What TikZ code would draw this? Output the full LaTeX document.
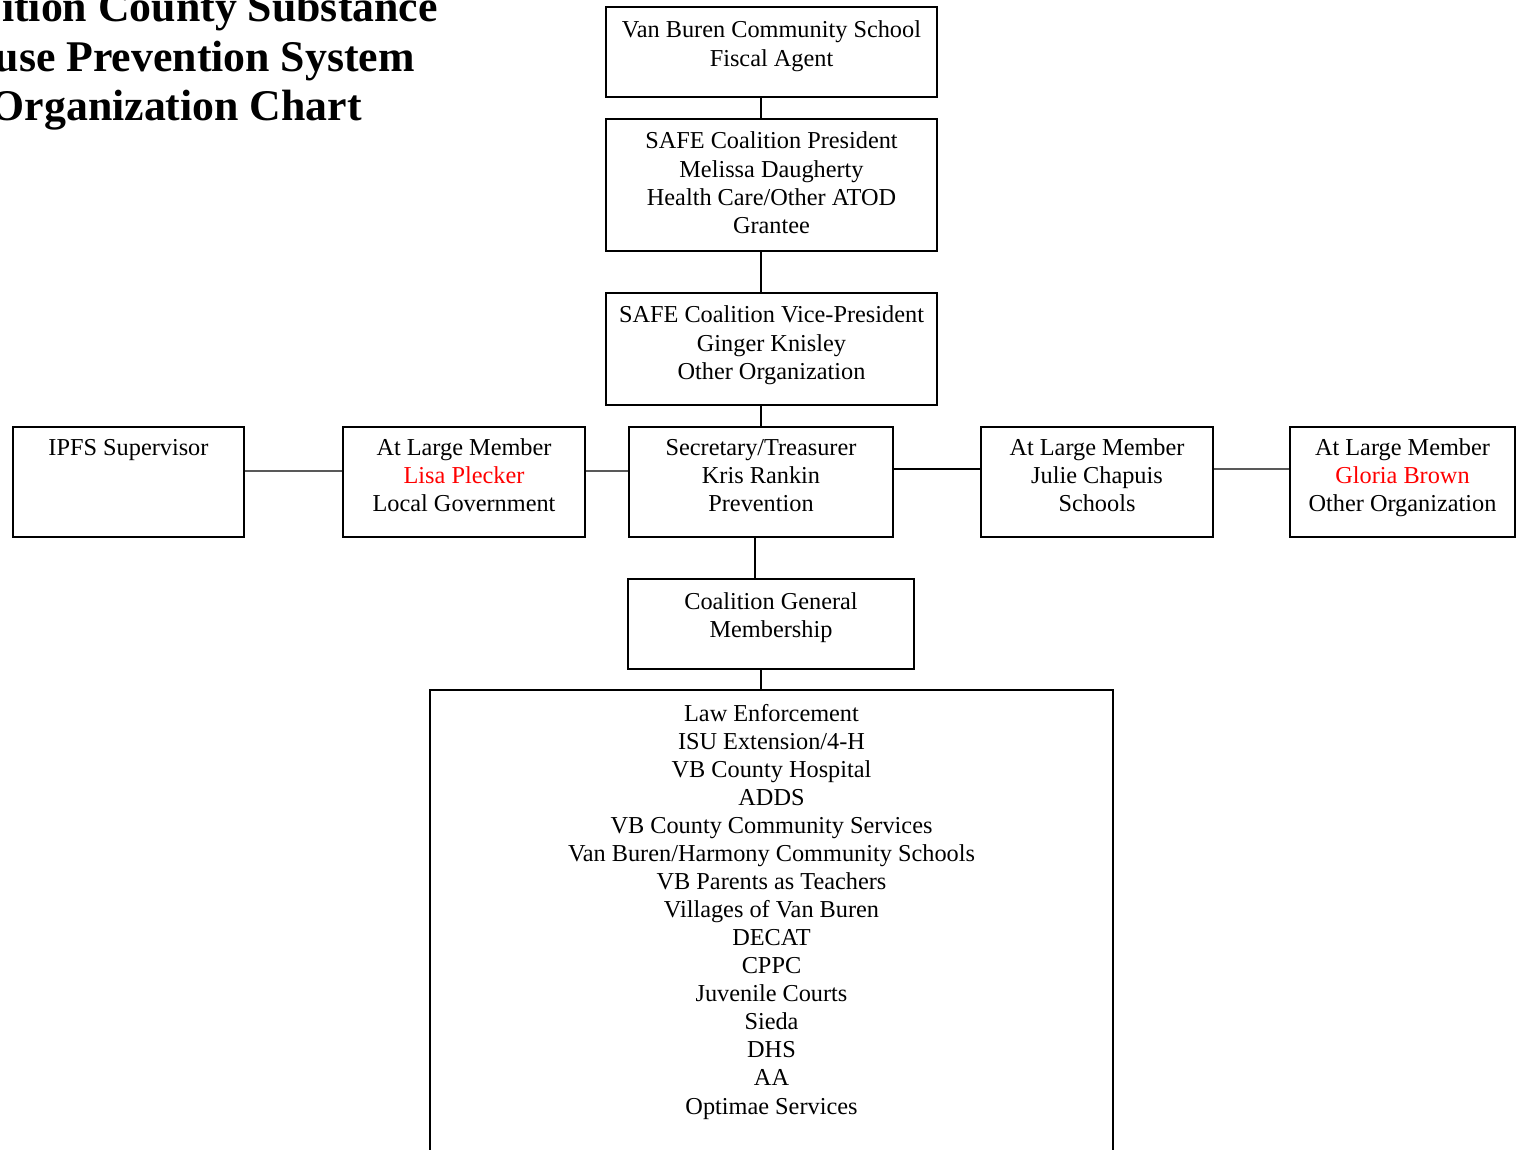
\documentclass[tikz,border=0pt]{standalone}
\usepackage{fontspec}
\setmainfont{Liberation Serif}
\begin{document}
\begin{tikzpicture}[x=1pt,y=-1pt,
  box/.style={draw=black, line width=2pt, rectangle, inner sep=0pt, anchor=north west},
  txt/.style={align=center, anchor=base, inner sep=0pt, font=\fontsize{24.3}{28.2}\selectfont},
  ttl/.style={anchor=base east, inner sep=0pt, font=\fontsize{43.8}{49}\selectfont\bfseries},
  conn/.style={draw=black, line width=2pt},
  gconn/.style={draw=black!65, line width=1.6pt}]
\useasboundingbox (0,0) rectangle (1516,1150);
\clip (0,0) rectangle (1516,1150);

% title (cropped in the original)
\node[ttl] (t1) at (438,22) {ition County Substance};
\node[ttl] (t2) at (415,72) {use Prevention System};
\node[ttl] (t3) at (362,121) {Organization Chart};

% boxes
\node[box, minimum width=331pt, minimum height=90pt] (fiscal) at (605,6) {};
\node[box, minimum width=331pt, minimum height=132pt] (pres) at (605,118) {};
\node[box, minimum width=331pt, minimum height=112pt] (vp) at (605,292) {};
\node[box, minimum width=231pt, minimum height=110pt] (ipfs) at (12,426) {};
\node[box, minimum width=242pt, minimum height=110pt] (lisa) at (342,426) {};
\node[box, minimum width=264pt, minimum height=110pt] (sec) at (628,426) {};
\node[box, minimum width=232pt, minimum height=110pt] (julie) at (980,426) {};
\node[box, minimum width=225pt, minimum height=110pt] (gloria) at (1289,426) {};
\node[box, minimum width=286pt, minimum height=90pt] (gen) at (627,578) {};
\node[box, minimum width=683pt, minimum height=500pt] (members) at (429,689) {};

% texts (base anchor = baseline of the last line)
\node[txt] (fiscalT) at ([yshift=-60.2pt]fiscal.north) {Van Buren Community School\\Fiscal Agent};
\node[txt] (presT) at ([yshift=-115.6pt]pres.north) {SAFE Coalition President\\Melissa Daugherty\\Health Care/Other ATOD\\Grantee};
\node[txt] (vpT) at ([yshift=-87.4pt]vp.north) {SAFE Coalition Vice-President\\Ginger Knisley\\Other Organization};
\node[txt] (ipfsT) at ([yshift=-29pt]ipfs.north) {IPFS Supervisor};
\node[txt] (lisaT) at ([yshift=-85.4pt]lisa.north) {At Large Member\\\textcolor{red}{Lisa Plecker}\\Local Government};
\node[txt] (secT) at ([yshift=-85.4pt]sec.north) {Secretary/Treasurer\\Kris Rankin\\Prevention};
\node[txt] (julieT) at ([yshift=-85.4pt]julie.north) {At Large Member\\Julie Chapuis\\Schools};
\node[txt] (gloriaT) at ([yshift=-85.4pt]gloria.north) {At Large Member\\\textcolor{red}{Gloria Brown}\\Other Organization};
\node[txt] (genT) at ([yshift=-59.2pt]gen.north) {Coalition General\\Membership};
\node[txt, font=\fontsize{24.3}{28.07}\selectfont] (membersT) at ([yshift=-425pt]members.north) {Law Enforcement\\ISU Extension/4-H\\VB County Hospital\\ADDS\\VB County Community Services\\Van Buren/Harmony Community Schools\\VB Parents as Teachers\\Villages of Van Buren\\DECAT\\CPPC\\Juvenile Courts\\Sieda\\DHS\\AA\\Optimae Services};

% connectors
\draw[conn] (fiscal.south -| sec.north) -- (pres.north -| sec.north);
\draw[conn] (pres.south -| sec.north) -- (vp.north -| sec.north);
\draw[conn] (vp.south -| sec.north) -- (sec.north);
\draw[conn] ([xshift=-6pt]sec.south) -- ([xshift=-6pt]sec.south |- gen.north);
\draw[conn] (gen.south -| sec.north) -- (members.north -| sec.north);
\draw[gconn] ([yshift=11pt]ipfs.east) -- ([yshift=11pt]lisa.west);
\draw[gconn] ([yshift=11pt]lisa.east) -- ([yshift=11pt]sec.west);
\draw[conn] ([yshift=13pt]sec.east) -- ([yshift=13pt]julie.west);
\draw[gconn] ([yshift=13pt]julie.east) -- ([yshift=13pt]gloria.west);
\end{tikzpicture}
\end{document}
